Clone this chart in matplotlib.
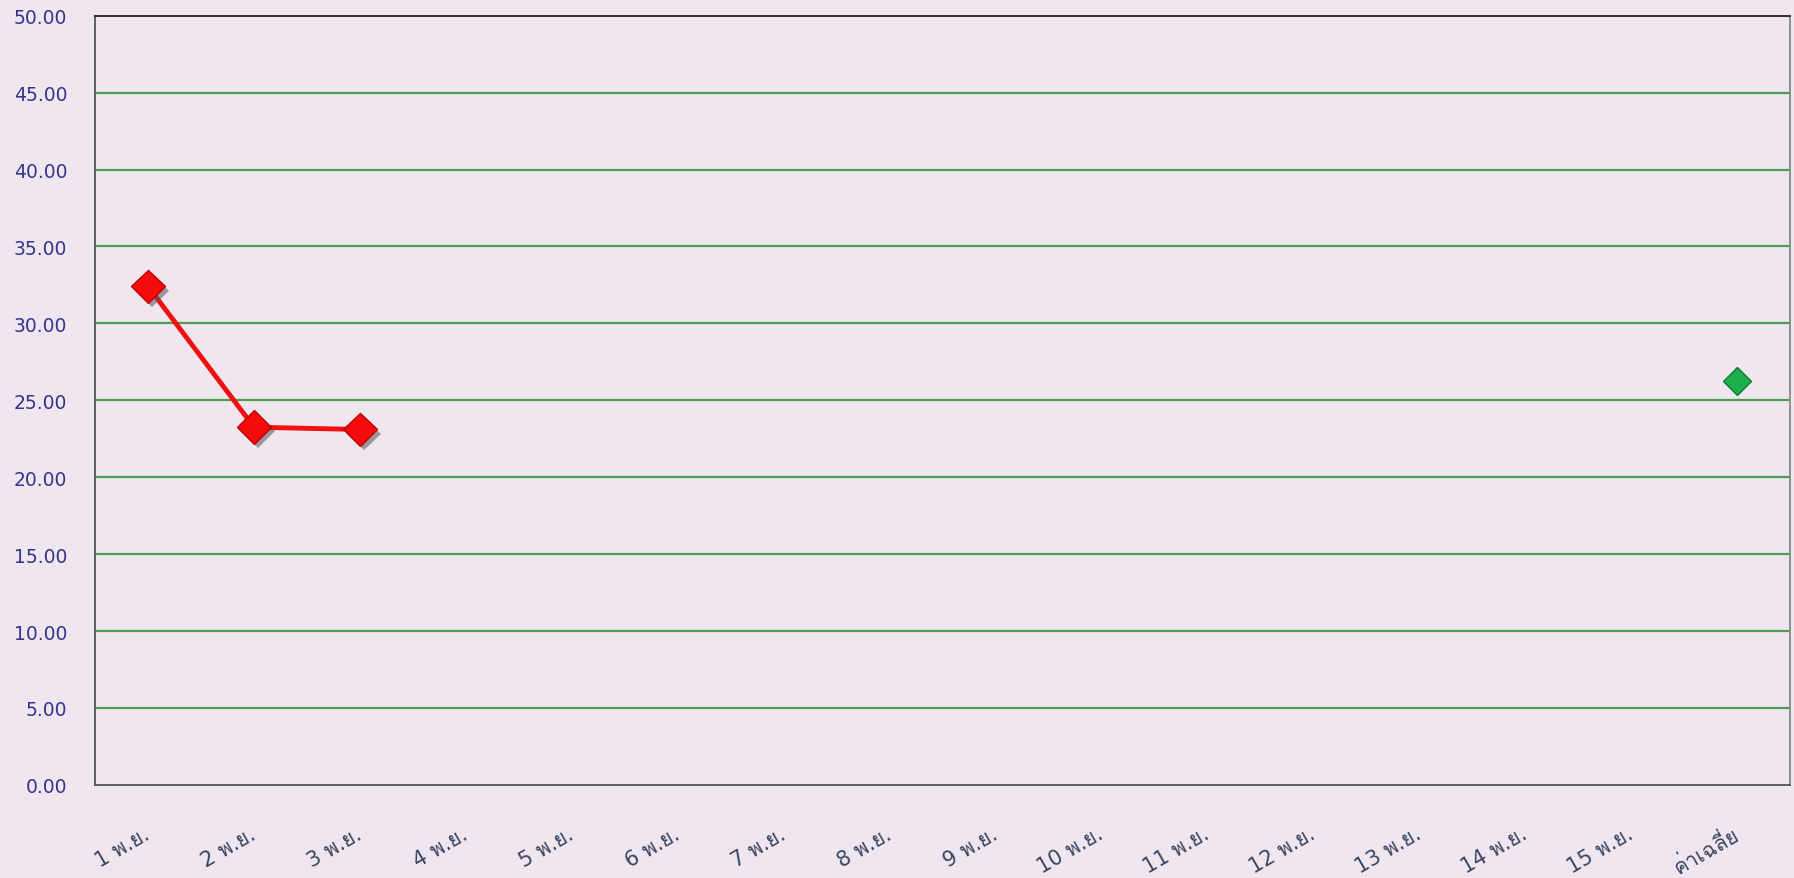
import matplotlib
matplotlib.use("Agg")
import matplotlib.pyplot as plt
import matplotlib.patheffects as pe
from matplotlib import font_manager
from matplotlib.ft2font import FT2Font

# ---- data ----
categories = ["1 พ.ย.", "2 พ.ย.", "3 พ.ย.", "4 พ.ย.", "5 พ.ย.", "6 พ.ย.", "7 พ.ย.",
              "8 พ.ย.", "9 พ.ย.", "10 พ.ย.", "11 พ.ย.", "12 พ.ย.", "13 พ.ย.",
              "14 พ.ย.", "15 พ.ย.", "ค่าเฉลี่ย"]
daily_values = [32.40, 23.25, 23.10]
average_value = 26.25
y_ticks = [0, 5, 10, 15, 20, 25, 30, 35, 40, 45, 50]

# ---- find a font with Thai glyphs ----
thai_families = []
for f in font_manager.fontManager.ttflist:
    try:
        cmap = FT2Font(f.fname).get_charmap()
        if 0x0E01 in cmap and 0x0E48 in cmap:
            if f.name not in thai_families:
                thai_families.append(f.name)
    except Exception:
        pass
plt.rcParams['font.family'] = ['DejaVu Sans'] + thai_families

bg = '#F0E6F0'
fig = plt.figure(figsize=(17.94, 8.79), dpi=100, facecolor=bg)
ax = fig.add_axes([0.053, 0.106, 0.945, 0.875], facecolor=bg)

x = list(range(len(categories)))
ax.set_xlim(-0.5, len(categories) - 0.5)
ax.set_ylim(0, 50)

for t in y_ticks[1:-1]:
    ax.axhline(t, color='#4E9E4E', lw=1.6, zorder=1)

shadow = [pe.SimplePatchShadow(offset=(3, -3), shadow_rgbFace='#555555', alpha=0.55), pe.Normal()]
ax.plot(x[:len(daily_values)], daily_values, color='#F01010', lw=3.5, zorder=3)
ax.plot(x[:len(daily_values)], daily_values, ls='none', marker='D', ms=17,
        mfc='#F40C0C', mec='#C00000', mew=1, zorder=4, path_effects=shadow)
ax.plot([x[-1]], [average_value], ls='none', marker='D', ms=14,
        mfc='#1DB04A', mec='#0E7A30', mew=1, zorder=4)

ax.set_yticks(y_ticks)
ax.set_yticklabels([f"{v:.2f}" for v in y_ticks], color='#35358A', fontsize=13.5)
ax.set_xticks(x)
ax.set_xticklabels(categories, rotation=30, ha='right', va='center',
                   rotation_mode='anchor', color='#3A4660', fontsize=15)
ax.tick_params(axis='y', length=0, pad=20)
ax.tick_params(axis='x', length=0, pad=34)

ax.spines['left'].set_color('#555555')
ax.spines['bottom'].set_color('#555555')
ax.spines['top'].set_color('#222222')
ax.spines['right'].set_color('#888888')
for s in ax.spines.values():
    s.set_linewidth(1.3)

fig.savefig('out.png', dpi=100, facecolor=bg)
